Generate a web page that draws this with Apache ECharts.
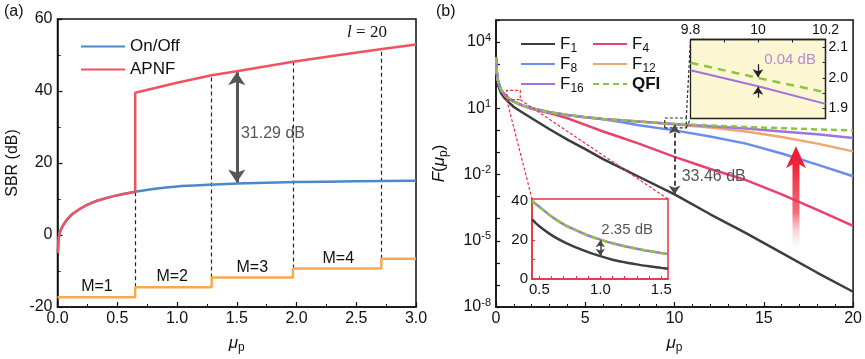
<!DOCTYPE html>
<html><head><meta charset="utf-8">
<script src="https://cdn.jsdelivr.net/npm/echarts@6/dist/echarts.min.js"></script>
<style>html,body{margin:0;padding:0;background:#fff}#c{width:865px;height:359px}</style>
</head><body><div id="c"></div>
<script>
// ---------- Panel (a) data ----------
const aLowMu   = [0.003,0.01,0.02,0.04,0.077,0.12,0.18,0.244,0.33,0.47,0.65];
const aLowSBR  = [-5,-1,0.8,2.3,4.2,5.7,7.1,8.3,9.5,10.8,12];
const onoffMu  = [0.65,0.8,1.0,1.29,1.5,2.0,2.5,3.0];
const onoffSBR = [12,12.8,13.5,14.0,14.3,14.7,14.9,15.1];
const apnfMu   = [0.65,1.0,1.29,1.5,1.97,2.3,2.7,3.0];
const apnfSBR  = [39.5,42.3,44.4,45.5,48.1,49.7,51.6,52.9];
const stepMu   = [0,0.65,1.29,1.97,2.71,3.0];
const stepSBR  = [-17.3,-14.5,-11.8,-9.3,-6.6,-6.6];
const dashMu   = [0.65,1.29,1.97,2.71];
const dashLow  = [-14.5,-11.8,-9.3,-6.6];
const dashHigh = [12,44.4,48.1,51.7];
const mLabels  = ['M=1','M=2','M=3','M=4'];
const mLabelMu = [0.33,0.96,1.63,2.35];
const mLabelSBR= [-14.2,-11.6,-9.0,-6.5];
const gapArrowA = [[1.5,14.6],[1.5,45.2]];

// ---------- Panel (b) data (log10 of F) ----------
const muB    = [0.01,0.02,0.05,0.1,0.2,0.3,0.5,0.75,1,1.5,2,3,4,5,6,7,8,10,12,14,16,18,20];
const logQFI = [3.3,3.0,2.6,2.3,2.0,1.82,1.6,1.43,1.3,1.12,1.0,0.82,0.7,0.6,0.52,0.46,0.4,0.3,0.22,0.155,0.1,0.045,0.0];
const logF16 = [3.3,3.0,2.6,2.3,2.0,1.82,1.6,1.43,1.3,1.12,1.0,0.82,0.7,0.6,0.52,0.46,0.4,0.29,0.19,0.08,-0.05,-0.18,-0.34];
const logF12 = [3.3,3.0,2.6,2.3,2.0,1.82,1.6,1.43,1.3,1.12,1.0,0.82,0.7,0.6,0.52,0.46,0.4,0.27,0.13,-0.05,-0.3,-0.6,-0.95];
const logF8  = [3.3,3.0,2.6,2.3,2.0,1.82,1.6,1.43,1.3,1.12,1.0,0.82,0.7,0.59,0.5,0.38,0.23,0.0,-0.28,-0.6,-1.05,-1.55,-2.08];
const logF4  = [3.3,3.0,2.6,2.3,2.0,1.82,1.6,1.43,1.3,1.12,0.98,0.78,0.55,0.25,-0.05,-0.32,-0.6,-1.2,-1.75,-2.25,-2.9,-3.6,-4.33];
const logF1  = [3.2,2.9,2.48,2.17,1.85,1.66,1.45,1.25,1.06,0.8,0.55,0.05,-0.42,-0.85,-1.3,-1.7,-2.1,-2.9,-3.8,-4.65,-5.55,-6.45,-7.31];
const logTickLabels = [-8,-5,-2,1,4];
const gapArrowB = [[10,0.26],[10,-2.9]];
const redRect  = [[0.6,1.39],[1.36,1.39],[1.36,1.81],[0.6,1.81],[0.6,1.39]];
const darkRect = [[9.45,0.11],[10.66,0.11],[10.66,0.56],[9.45,0.56],[9.45,0.11]];
const bigArrow = {mu:16.8, from:-5.6, to:-0.72};

// ---------- Inset 1 (linear) ----------
const in1Mu  = [0.44,0.5,0.6,0.7,0.8,0.9,1.0,1.1,1.2,1.3,1.4,1.5,1.555];
const in1QFI = [40,37,32,28,25,22.3,20.2,18.3,16.8,15.5,14.3,13.3,12.8];
const in1F1  = [30.5,27,22.5,19,16.2,13.8,11.7,9.9,8.6,7.5,6.5,5.7,5.3];
const in1Arrow = [[1.0,11.9],[1.0,19.9]];

// ---------- Inset 2 (zoom at mu=10) ----------
const in2Mu  = [9.8,10,10.2];
const in2QFI = [2.05,2.0,1.953];
const in2F16 = [2.025,1.973,1.915];
const in2ArrowDown = [[10,2.045],[10,2.002]];
const in2ArrowUp   = [[10,1.935],[10,1.971]];

const FONT = '"Liberation Sans", Arial, sans-serif';
const pair = (xs, ys) => xs.map((x, i) => [x, ys[i]]);
const C = {F1:'#3d3d3d',F4:'#e9416b',F8:'#6a8cf0',F12:'#f2a66e',F16:'#9f74dd',QFI:'#8cc63e',
           onoff:'#4a89c8',apnf:'#f05260',step:'#f6a94f'};

const chart = echarts.init(document.getElementById('c'), null, {renderer:'canvas'});

const subRich = {
  i:{fontStyle:'italic',fontSize:17,lineHeight:22,fontFamily:FONT,color:'#111'},
  n:{fontSize:17,lineHeight:22,fontFamily:FONT,color:'#111'},
  s:{fontSize:12,lineHeight:12,verticalAlign:'bottom',fontFamily:FONT,color:'#111'}
};
function mainAxisLine(){return {onZero:false,lineStyle:{color:'#111',width:1.5}};}
function ticks(len){return {inside:true,length:len||5,lineStyle:{color:'#111',width:1.2}};}
const hiddenSym = {color:'transparent',borderColor:'transparent',borderWidth:0,opacity:0};

const option = {
  animation:false,
  textStyle:{fontFamily:FONT},
  grid:[
    {left:57.5, top:19, width:358.5, height:288, show:true, borderColor:'#111', borderWidth:1.5},
    {left:496, top:20, width:358, height:288, show:true, borderColor:'#111', borderWidth:1.5},
    {left:532, top:199, width:136, height:80, show:true, borderColor:'#e8303f', borderWidth:1.5, backgroundColor:'#fff', z:10},
    {left:690.5, top:39.5, width:135, height:79, show:true, borderColor:'#222', borderWidth:1.3, backgroundColor:'#fdf6d2', z:10}
  ],
  xAxis:[
    {type:'value',gridIndex:0,min:0,max:3,interval:0.5,axisLine:mainAxisLine(),axisTick:ticks(5),
     minorTick:{show:true,splitNumber:2,length:3,lineStyle:{color:'#111'}},splitLine:{show:false},
     axisLabel:{color:'#111',fontSize:16,margin:4,formatter:v=>v.toFixed(1)},
     name:'{i|μ}{s|p}',nameLocation:'middle',nameGap:25,nameTextStyle:{rich:subRich}},
    {type:'value',gridIndex:1,min:0,max:20,interval:5,axisLine:mainAxisLine(),axisTick:ticks(5),
     minorTick:{show:true,splitNumber:5,length:3,lineStyle:{color:'#111'}},splitLine:{show:false},
     axisLabel:{color:'#111',fontSize:16,margin:4},
     name:'{i|μ}{s|p}',nameLocation:'middle',nameGap:25,nameTextStyle:{rich:subRich}},
    {type:'value',gridIndex:2,min:0.44,max:1.555,z:11,
     axisLine:{onZero:false,lineStyle:{color:'#e8303f',width:1.5}},
     axisTick:{inside:true,length:3,customValues:[0.5,0.6,0.7,0.8,0.9,1.0,1.1,1.2,1.3,1.4,1.5],lineStyle:{color:'#e8303f'}},
     splitLine:{show:false},
     axisLabel:{color:'#111',fontSize:15,margin:3,customValues:[0.5,1.0,1.5],formatter:v=>v.toFixed(1)}},
    {type:'value',gridIndex:3,position:'top',min:9.8,max:10.2,z:11,
     axisLine:{onZero:false,lineStyle:{color:'#222',width:1.3}},
     axisTick:{inside:true,length:3,customValues:[9.8,9.9,10,10.1,10.2],lineStyle:{color:'#222'}},
     splitLine:{show:false},
     axisLabel:{color:'#111',fontSize:14,margin:2,customValues:[9.8,10,10.2],formatter:v=>(v===10?'10':v.toFixed(1))}}
  ],
  yAxis:[
    {type:'value',gridIndex:0,min:-20,max:60,interval:20,axisLine:mainAxisLine(),axisTick:ticks(5),
     minorTick:{show:true,splitNumber:2,length:3,lineStyle:{color:'#111'}},splitLine:{show:false},
     axisLabel:{color:'#111',fontSize:16,margin:5},
     name:'SBR (dB)',nameLocation:'middle',nameGap:37,nameTextStyle:{color:'#111',fontSize:16}},
    {type:'value',gridIndex:1,min:-8,max:5,interval:1,axisLine:mainAxisLine(),axisTick:ticks(4),
     splitLine:{show:false},
     axisLabel:{color:'#111',margin:5,
       formatter:v=>(logTickLabels.indexOf(v)>=0?'{b|10}{t|'+v+'}':''),
       rich:{b:{fontSize:16,lineHeight:20,color:'#111',fontFamily:FONT},
             t:{fontSize:11,lineHeight:10,verticalAlign:'top',color:'#111',fontFamily:FONT}}},
     name:'{i|F}{n|(}{i|μ}{s|p}{n|)}',nameLocation:'middle',nameGap:46,nameTextStyle:{rich:subRich}},
    {type:'value',gridIndex:2,min:0,max:41,z:11,
     axisLine:{onZero:false,lineStyle:{color:'#e8303f',width:1.5}},
     axisTick:{inside:true,length:3,customValues:[0,10,20,30,40],lineStyle:{color:'#e8303f'}},
     splitLine:{show:false},
     axisLabel:{color:'#111',fontSize:15,margin:4,customValues:[0,20,40]}},
    {type:'value',gridIndex:3,position:'right',min:1.867,max:2.126,z:11,
     axisLine:{onZero:false,lineStyle:{color:'#222',width:1.3}},
     axisTick:{inside:true,length:3,customValues:[1.9,1.95,2.0,2.05,2.1],lineStyle:{color:'#222'}},
     splitLine:{show:false},
     axisLabel:{color:'#111',fontSize:14,margin:3,customValues:[1.9,2.0,2.1],formatter:v=>v.toFixed(1)}}
  ],
  legend:[
    {data:['On/Off','APNF'],orient:'vertical',left:75,top:31.5,itemWidth:44,itemHeight:12,itemGap:3,
     itemStyle:hiddenSym,
     textStyle:{fontSize:17,color:'#111',lineHeight:20}},
    {data:['F1','F8','F16'],orient:'vertical',left:515,top:30.5,itemWidth:34,itemHeight:12,itemGap:0.5,
     itemStyle:hiddenSym,
     formatter:n=>'{f|F}{s|'+n.slice(1)+'}',
     textStyle:{rich:{f:{fontSize:17,lineHeight:22,color:'#111'},s:{fontSize:12,lineHeight:12,verticalAlign:'bottom',color:'#111'}}}},
    {data:['F4','F12','QFI'],orient:'vertical',left:587,top:30.5,itemWidth:34,itemHeight:12,itemGap:0.5,
     itemStyle:hiddenSym,
     formatter:n=>(n==='QFI'?'{q|QFI}':'{f|F}{s|'+n.slice(1)+'}'),
     textStyle:{rich:{f:{fontSize:17,lineHeight:22,color:'#111'},q:{fontSize:17,lineHeight:22,fontWeight:'bold',color:'#111'},
       s:{fontSize:12,lineHeight:12,verticalAlign:'bottom',color:'#111'}}}}
  ],
  series:[
    // panel (a)
    {name:'On/Off',type:'line',xAxisIndex:0,yAxisIndex:0,showSymbol:false,symbol:'none',smooth:0.3,
     data:pair(aLowMu,aLowSBR).concat(pair(onoffMu,onoffSBR).slice(1)),lineStyle:{color:C.onoff,width:2.5},itemStyle:{color:C.onoff}},
    {name:'APNF',type:'line',xAxisIndex:0,yAxisIndex:0,showSymbol:false,symbol:'none',
     data:pair(aLowMu,aLowSBR).concat(pair(apnfMu,apnfSBR)),lineStyle:{color:C.apnf,width:2.5},itemStyle:{color:C.apnf}},
    {name:'steps',type:'line',step:'end',xAxisIndex:0,yAxisIndex:0,showSymbol:false,symbol:'none',
     data:pair(stepMu,stepSBR),lineStyle:{color:C.step,width:2.5}},
    {name:'dashA',type:'lines',coordinateSystem:'cartesian2d',xAxisIndex:0,yAxisIndex:0,z:3,
     data:dashMu.map((m,i)=>({coords:[[m,dashLow[i]],[m,dashHigh[i]]]})),
     lineStyle:{color:'#222',width:1.2,type:[4,3],opacity:1}},
    {name:'arrowA',type:'lines',coordinateSystem:'cartesian2d',xAxisIndex:0,yAxisIndex:0,z:4,
     symbol:['arrow','arrow'],symbolSize:13,
     data:[{coords:gapArrowA}],lineStyle:{color:'#555',width:3,opacity:1}},
    // panel (b)
    ...['F1','F4','F8','F12','F16'].map((n,k)=>({name:n,type:'line',xAxisIndex:1,yAxisIndex:1,showSymbol:false,symbol:'none',
      data:pair(muB,[logF1,logF4,logF8,logF12,logF16][k]),lineStyle:{color:C[n],width:2.5},itemStyle:{color:C[n]}})),
    {name:'QFI',type:'line',xAxisIndex:1,yAxisIndex:1,showSymbol:false,symbol:'none',
     data:pair(muB,logQFI),lineStyle:{color:C.QFI,width:2.5,type:[6,4]},itemStyle:{color:C.QFI}},
    {name:'rectB',type:'lines',coordinateSystem:'cartesian2d',xAxisIndex:1,yAxisIndex:1,polyline:true,z:5,
     data:[{coords:redRect,lineStyle:{color:'#e8303f'}},{coords:darkRect,lineStyle:{color:'#333'}}],
     lineStyle:{width:1.2,type:[3,2],opacity:1}},
    {name:'arrowB',type:'lines',coordinateSystem:'cartesian2d',xAxisIndex:1,yAxisIndex:1,z:5,
     symbol:['arrow','arrow'],symbolSize:9,
     data:[{coords:gapArrowB}],lineStyle:{color:'#4a4a4a',width:2,type:[5,3],opacity:1}},
    // inset 1
    {name:'in1F16',type:'line',xAxisIndex:2,yAxisIndex:2,z:12,showSymbol:false,symbol:'none',smooth:0.3,
     data:pair(in1Mu,in1QFI),lineStyle:{color:C.F16,width:2.5}},
    {name:'in1QFI',type:'line',xAxisIndex:2,yAxisIndex:2,z:12,showSymbol:false,symbol:'none',smooth:0.3,
     data:pair(in1Mu,in1QFI),lineStyle:{color:C.QFI,width:2.5,type:[6,4]}},
    {name:'in1F1',type:'line',xAxisIndex:2,yAxisIndex:2,z:12,showSymbol:false,symbol:'none',smooth:0.3,
     data:pair(in1Mu,in1F1),lineStyle:{color:C.F1,width:2.5}},
    {name:'in1Arrow',type:'lines',coordinateSystem:'cartesian2d',xAxisIndex:2,yAxisIndex:2,z:13,
     symbol:['arrow','arrow'],symbolSize:7,data:[{coords:in1Arrow}],lineStyle:{color:'#444',width:1.5,opacity:1}},
    // inset 2
    {name:'in2F16',type:'line',xAxisIndex:3,yAxisIndex:3,z:12,showSymbol:false,symbol:'none',
     data:pair(in2Mu,in2F16),lineStyle:{color:C.F16,width:2}},
    {name:'in2QFI',type:'line',xAxisIndex:3,yAxisIndex:3,z:12,showSymbol:false,symbol:'none',
     data:pair(in2Mu,in2QFI),lineStyle:{color:C.QFI,width:2.5,type:[8,6]}},
    {name:'in2Arrows',type:'lines',coordinateSystem:'cartesian2d',xAxisIndex:3,yAxisIndex:3,z:13,
     symbol:['none','arrow'],symbolSize:8,data:[{coords:in2ArrowDown},{coords:in2ArrowUp}],
     lineStyle:{color:'#222',width:1.3,opacity:1}}
  ]
};
chart.setOption(option);

// ---------- annotations placed through the axes ----------
const P = (g, x, y) => chart.convertToPixel({gridIndex:g}, [x, y]);
function txt(pt, text, size, color, align, extra){
  return Object.assign({type:'text', x:pt[0], y:pt[1], z:30,
    style:{text:text, fontSize:size, fontFamily:FONT, fill:color, align:align||'center', verticalAlign:'middle',
           textAlign:align||'center', textVerticalAlign:'middle'}}, extra||{});
}
const g = [];
g.push({type:'text',left:4,top:4,z:30,style:{text:'(a)',fontSize:16,fontFamily:FONT,fill:'#111'}});
g.push({type:'text',left:436,top:4,z:30,style:{text:'(b)',fontSize:16,fontFamily:FONT,fill:'#111'}});
mLabels.forEach((t,i)=>g.push(txt(P(0,mLabelMu[i],mLabelSBR[i]),t,16,'#111')));
g.push(txt(P(0,1.535,28.3),'31.29 dB',16,'#555','left'));
const lp = P(0,2.59,56.3);
g.push({type:'text',x:lp[0],y:lp[1],z:30,style:{text:'{i|l} = 20',align:'center',verticalAlign:'middle',textAlign:'center',textVerticalAlign:'middle',
  fontSize:17,fontFamily:'"Liberation Serif", serif',fill:'#111',
  rich:{i:{fontStyle:'italic',fontSize:17,fontFamily:'"Liberation Serif", serif',fill:'#111',color:'#111'}}}});
g.push(txt(P(1,10.4,-2.09),'33.46 dB',16,'#555','left'));
g.push(txt(P(2,1.0,25.3),'2.35 dB',15,'#555','left',{x:P(2,1.0,25.3)[0]+1,z:40}));
g.push(txt(P(3,10.095,2.058),'0.04 dB',15,'#b48ad4','center',{z:40}));
// connectors to insets
function seg(a,b,color,z){return {type:'line',z:z||6,shape:{x1:a[0],y1:a[1],x2:b[0],y2:b[1]},style:{stroke:color,lineWidth:1.2,lineDash:[3,2]}};}
g.push(seg(P(1,redRect[0][0],redRect[0][1]), P(2,0.44,41),'#e8303f'));
g.push(seg(P(1,redRect[1][0],redRect[1][1]), P(2,1.555,41),'#e8303f'));
g.push(seg(P(1,darkRect[2][0],darkRect[2][1]), P(3,9.8,2.126),'#333'));
g.push(seg(P(1,darkRect[1][0],darkRect[1][1]), P(3,9.8,1.867),'#333'));
// red gradient arrow
const tip = P(1,bigArrow.mu,bigArrow.to), bot = P(1,bigArrow.mu,bigArrow.from);
const headH = 22, headW = 10, shaftW = 3.5;
g.push({type:'rect',z:7,shape:{x:tip[0]-shaftW,y:tip[1]+headH-6,width:shaftW*2,height:bot[1]-tip[1]-headH+6},
  style:{fill:new echarts.graphic.LinearGradient(0,0,0,1,[{offset:0,color:'#ee2035'},{offset:0.55,color:'rgba(240,60,80,0.75)'},{offset:1,color:'rgba(255,255,255,0)'}])}});
g.push({type:'polygon',z:7,shape:{points:[[tip[0],tip[1]],[tip[0]+headW,tip[1]+headH],[tip[0],tip[1]+headH-6],[tip[0]-headW,tip[1]+headH]]},
  style:{fill:'#ee2035'}});
chart.setOption({graphic:g});
</script></body></html>
